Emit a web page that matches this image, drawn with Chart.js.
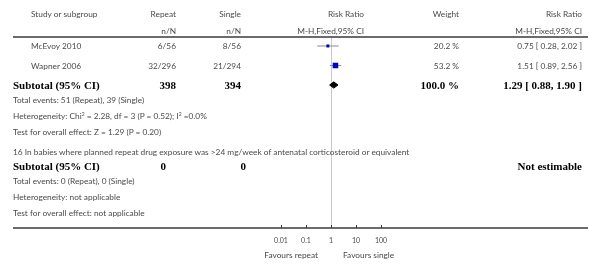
<!DOCTYPE html>
<html>
<head>
<meta charset="utf-8">
<script src="https://cdn.jsdelivr.net/npm/chart.js@4.4.0/dist/chart.umd.min.js"></script>
<style>
body { margin:0; background:#fff; }
#wrap { position:relative; width:601px; height:268px; overflow:hidden; background:#fff; }
#c { position:absolute; left:0; top:0; }
.t { position:absolute; white-space:nowrap; font-family:Lato, "Open Sans", sans-serif; font-weight:400; font-size:8.3px; color:#4a4a4a; line-height:12px; height:12px; }
.t sup { font-size:5px; vertical-align:3px; line-height:0; }
.b { font-family:"Liberation Serif", "DejaVu Serif", serif; font-weight:bold; font-size:11px; color:#000; line-height:14px; height:14px; }
</style>
</head>
<body>
<div id="wrap"><canvas id="c" width="601" height="268"></canvas></div>
<script>
// study rows
const studies = ["McEvoy 2010", "Wapner 2006"];
const repeatEvents = [6, 32];
const repeatTotal = [56, 296];
const singleEvents = [8, 21];
const singleTotal = [56, 294];
const riskRatio = [0.75, 1.51];
const ciLow = [0.28, 0.89];
const ciHigh = [2.02, 2.56];
const weights = [20.2, 53.2];

// subtotal of first subgroup
const subRR = [1.29];
const subLow = [0.88];
const subHigh = [1.90];
const subTotals = [398, 394];

const xTicks = [0.01, 0.1, 1, 10, 100];
const xTickLabels = ["0.01", "0.1", "1", "10", "100"];

const wrap = document.getElementById("wrap");

const put = (html, x, y, align, bold) => {
  const d = document.createElement("div");
  d.className = bold ? "t b" : "t";
  d.innerHTML = html;
  const h = bold ? 14 : 12;
  d.style.top = (y - h / 2) + "px";
  if (align === "left") {
    d.style.left = x + "px";
  } else if (align === "right") {
    d.style.right = (601 - x) + "px";
  } else {
    d.style.left = (x - 150) + "px";
    d.style.width = "300px";
    d.style.textAlign = "center";
  }
  wrap.appendChild(d);
};

// header
put("Study or subgroup", 31, 14, "left");
put("Repeat", 176, 14, "right");
put("n/N", 176, 31, "right");
put("Single", 241, 14, "right");
put("n/N", 241, 31, "right");
put("Risk Ratio", 364, 14, "right");
put("M-H,Fixed,95% CI", 364, 31, "right");
put("Weight", 459, 14, "right");
put("Risk Ratio", 582, 14, "right");
put("M-H,Fixed,95% CI", 582, 31, "right");

// studies
const rowY = [46, 65.5];
studies.forEach((s, i) => {
  put(s, 31, rowY[i], "left");
  put(repeatEvents[i] + "/" + repeatTotal[i], 176, rowY[i], "right");
  put(singleEvents[i] + "/" + singleTotal[i], 241, rowY[i], "right");
  put(weights[i].toFixed(1) + " %", 459, rowY[i], "right");
  put(riskRatio[i].toFixed(2) + " [ " + ciLow[i].toFixed(2) + ", " + ciHigh[i].toFixed(2) + " ]", 582, rowY[i], "right");
});

put("Subtotal (95% CI)", 13, 85, "left", true);
put(String(subTotals[0]), 176, 85, "right", true);
put(String(subTotals[1]), 241, 85, "right", true);
put("100.0 %", 459, 85, "right", true);
put(subRR[0].toFixed(2) + " [ " + subLow[0].toFixed(2) + ", " + subHigh[0].toFixed(2) + " ]", 582, 85, "right", true);
put("Total events: 51 (Repeat), 39 (Single)", 13, 100, "left");
put("Heterogeneity: Chi<sup>2</sup> = 2.28, df = 3 (P = 0.52); I<sup>2</sup> =0.0%", 13, 116, "left");
put("Test for overall effect: Z = 1.29 (P = 0.20)", 13, 132, "left");

put("16 In babies where planned repeat drug exposure was &gt;24 mg/week of antenatal corticosteroid or equivalent", 13, 152, "left");
put("Subtotal (95% CI)", 13, 166, "left", true);
put("0", 166, 166, "right", true);
put("0", 246, 166, "right", true);
put("Not estimable", 582, 166, "right", true);
put("Total events: 0 (Repeat), 0 (Single)", 13, 181, "left");
put("Heterogeneity: not applicable", 13, 197, "left");
put("Test for overall effect: not applicable", 13, 213, "left");

put("Favours repeat", 318, 255, "right");
put("Favours single", 343, 255, "left");

// long rules and small tick marks
const rules = {
  id: "rules",
  afterDraw(chart) {
    const ctx = chart.ctx;
    const area = chart.chartArea;
    const xs = chart.scales.x;
    ctx.save();
    ctx.strokeStyle = "#3a3a3a";
    ctx.lineWidth = 1.6;
    ctx.beginPath();
    ctx.moveTo(13, area.top);
    ctx.lineTo(588, area.top);
    ctx.stroke();
    ctx.lineWidth = 1.3;
    ctx.beginPath();
    ctx.moveTo(13, area.bottom);
    ctx.lineTo(588, area.bottom);
    ctx.stroke();
    ctx.lineWidth = 1;
    xTicks.forEach(v => {
      const px = Math.round(xs.getPixelForValue(v)) + 0.5;
      ctx.beginPath();
      ctx.moveTo(px, area.bottom - 3);
      ctx.lineTo(px, area.bottom);
      ctx.stroke();
    });
    ctx.restore();
  }
};

const ciSets = studies.map((s, i) => ({
  data: [{ x: ciLow[i], y: i + 1 }, { x: ciHigh[i], y: i + 1 }],
  showLine: true,
  borderColor: "#8a8a9a",
  borderWidth: 1,
  pointRadius: 0,
  order: 2
}));

const squares = {
  data: studies.map((s, i) => ({ x: riskRatio[i], y: i + 1 })),
  pointStyle: "rect",
  pointRadius: weights.map(w => 1 + w * 0.055),
  backgroundColor: "#0000cc",
  borderColor: "#0000cc",
  borderWidth: 0,
  order: 0
};

const dRow = studies.length + 1;
const diamond = {
  data: [
    { x: subLow[0], y: dRow },
    { x: subRR[0], y: dRow - 0.16 },
    { x: subHigh[0], y: dRow },
    { x: subRR[0], y: dRow + 0.16 },
    { x: subLow[0], y: dRow }
  ],
  showLine: true,
  fill: "shape",
  backgroundColor: "#000",
  borderColor: "#000",
  borderWidth: 1,
  pointRadius: 0,
  tension: 0,
  order: 1
};

new Chart(document.getElementById("c"), {
  type: "scatter",
  data: { datasets: [...ciSets, squares, diamond] },
  options: {
    responsive: false,
    animation: false,
    devicePixelRatio: 1,
    layout: { padding: { left: 281, right: 220, top: 37, bottom: 0 } },
    plugins: { legend: { display: false }, tooltip: { enabled: false } },
    scales: {
      x: {
        type: "logarithmic",
        min: 0.01,
        max: 100,
        afterBuildTicks: s => { s.ticks = xTicks.map(v => ({ value: v })); },
        afterFit: s => { s.height = 40; },
        grid: {
          drawTicks: false,
          lineWidth: 1,
          color: c => (c.tick && c.tick.value === 1 ? "#c8c8c8" : "rgba(0,0,0,0)")
        },
        border: { display: false },
        ticks: {
          padding: 9,
          autoSkip: false,
          maxRotation: 0,
          color: "#4a4a4a",
          font: { family: "Lato", size: 7, weight: 400 },
          callback: (v, i) => xTickLabels[i]
        }
      },
      y: { display: false, reverse: true, min: 0.54, max: 10.33 }
    }
  },
  plugins: [rules]
});
</script>
</body>
</html>
